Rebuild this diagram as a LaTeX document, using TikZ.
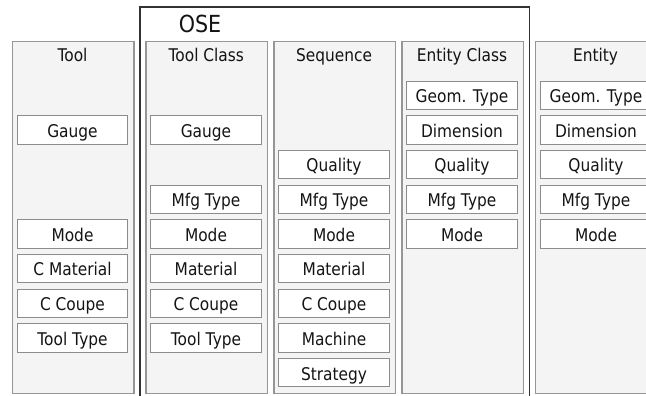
\documentclass[tikz,border=0pt]{standalone}
\usepackage{fontspec}
\setmainfont[FakeStretch=0.88]{DejaVu Sans}
\definecolor{colfill}{RGB}{244,244,244}
\definecolor{colline}{RGB}{150,150,150}
\definecolor{boxline}{RGB}{140,140,140}
\definecolor{oseline}{RGB}{50,50,50}
\definecolor{txt}{RGB}{20,20,20}
\begin{document}
\begin{tikzpicture}[x=1pt,y=-1pt,
  column/.style={draw=colline,fill=colfill,line width=1.2pt,minimum width=121.6pt,minimum height=351.4pt,anchor=north west,inner sep=0pt},
  title/.style={font=\fontsize{17.5}{19}\selectfont,text=txt,inner sep=0pt,anchor=base},
  field/.style={draw=boxline,fill=white,line width=1pt,minimum width=110.4pt,minimum height=28.3pt,inner sep=0pt,text height=16pt,text depth=1.6pt,font=\fontsize{17.5}{19}\selectfont,text=txt},
  osebox/.style={draw=oseline,line width=1.6pt}]
\clip (0,0) rectangle (646,396);
% OSE frame
\node[osebox,minimum width=389.4pt,minimum height=400pt,anchor=north west,inner sep=0pt] (ose) at (139.3,6) {};
\node[font=\fontsize{23.5}{25}\selectfont,text=txt,inner sep=0pt,anchor=base] (oselabel) at (200,32.7) {OSE};
% columns
\node[column] (ctool) at (11.7,41.3) {};
\node[column] (ctc) at (145.3,41.3) {};
\node[column] (cseq) at (273.3,41.3) {};
\node[column] (cec) at (401.3,41.3) {};
\node[column] (cent) at (534.7,41.3) {};
\node[title] (ttool) at (72.5,61.7) {Tool};
\node[title] (ttc) at (206.3,61.7) {Tool Class};
\node[title] (tseq) at (334,61.7) {Sequence};
\node[title] (tec) at (462,61.7) {Entity Class};
\node[title] (tent) at (595.5,61.7) {Entity};
% Tool
\node[field] (t1) at (72.5,129.9) {Gauge};
\node[field] (t4) at (72.5,234.0) {Mode};
\node[field] (t5) at (72.5,268.7) {C Material};
\node[field] (t6) at (72.5,303.4) {C Coupe};
\node[field] (t7) at (72.5,338.1) {Tool Type};
% Tool Class
\node[field] (tc1) at (206,129.9) {Gauge};
\node[field] (tc3) at (206,199.3) {Mfg Type};
\node[field] (tc4) at (206,234.0) {Mode};
\node[field] (tc5) at (206,268.7) {Material};
\node[field] (tc6) at (206,303.4) {C Coupe};
\node[field] (tc7) at (206,338.1) {Tool Type};
% Sequence
\node[field] (s2) at (334,164.6) {Quality};
\node[field] (s3) at (334,199.3) {Mfg Type};
\node[field] (s4) at (334,234.0) {Mode};
\node[field] (s5) at (334,268.7) {Material};
\node[field] (s6) at (334,303.4) {C Coupe};
\node[field] (s7) at (334,338.1) {Machine};
\node[field] (s8) at (334,372.8) {Strategy};
% Entity Class
\node[field] (ec0) at (462,95.2) {Geom. Type};
\node[field] (ec1) at (462,129.9) {Dimension};
\node[field] (ec2) at (462,164.6) {Quality};
\node[field] (ec3) at (462,199.3) {Mfg Type};
\node[field] (ec4) at (462,234.0) {Mode};
% Entity
\node[field] (e0) at (596,95.2) {Geom. Type};
\node[field] (e1) at (596,129.9) {Dimension};
\node[field] (e2) at (596,164.6) {Quality};
\node[field] (e3) at (596,199.3) {Mfg Type};
\node[field] (e4) at (596,234.0) {Mode};
\end{tikzpicture}
\end{document}
